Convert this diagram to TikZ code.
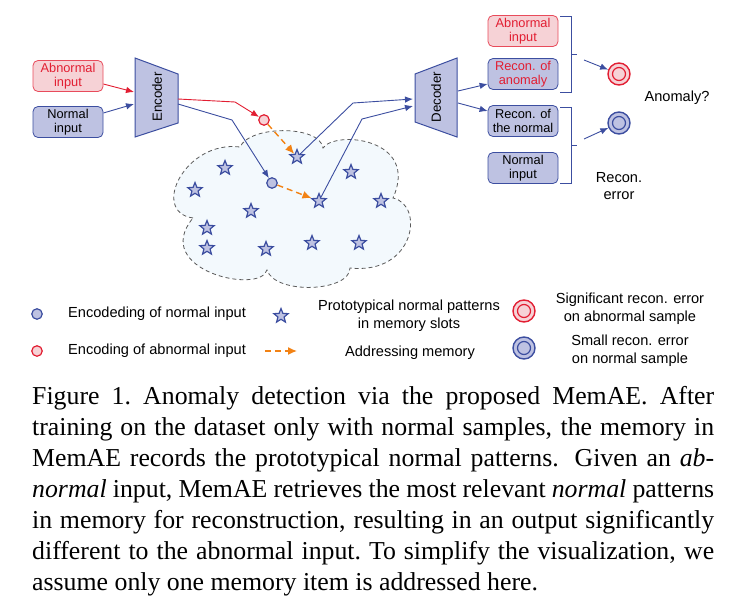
\documentclass[tikz,border=0pt]{standalone}
\usepackage{fontspec}
\setmainfont{Liberation Serif}
\setsansfont{Liberation Sans}
\usetikzlibrary{arrows.meta,shapes.geometric}

\definecolor{encblue}{RGB}{60,78,160}
\definecolor{lav}{RGB}{190,194,226}
\definecolor{abred}{RGB}{226,30,50}
\definecolor{abpink}{RGB}{246,210,214}
\definecolor{addrc}{RGB}{242,130,20}
\definecolor{cloudfill}{RGB}{243,249,253}
\definecolor{cloudline}{RGB}{90,90,90}

\newcommand{\boxfont}{\sffamily\fontsize{12.8}{14.6}\selectfont}
\newcommand{\unitfont}{\sffamily\fontsize{13.3}{15}\selectfont}
\newcommand{\lgfont}{\sffamily\fontsize{14.6}{17.6}\selectfont}
\newcommand{\capfont}{\rmfamily\fontsize{25.8}{31}\selectfont}

\begin{document}
\begin{tikzpicture}[x=1pt,y=-1pt,
        box/.style={draw=encblue, fill=lav, rounded corners=5pt, minimum width=70pt, minimum height=31pt, inner sep=0pt, align=center, font=\boxfont, line width=0.8pt},
        abox/.style={box, draw=abred!80, fill=abpink, text=abred},
        unit/.style={draw=encblue, fill=lav, line width=1pt},
        zn/.style={circle, minimum size=10.5pt, inner sep=0pt, draw=encblue, fill=lav, line width=1.2pt},
        za/.style={zn, draw=abred, fill=abpink},
        memstar/.style={star, star points=5, star point ratio=2.3, minimum size=15pt, inner sep=0pt, draw=encblue, fill=lav, line width=1.2pt},
        ring/.style={circle, minimum size=22pt, inner sep=0pt, line width=1.4pt, draw=#1,
            path picture={\draw[draw=#1, line width=1.2pt] (path picture bounding box.center) circle (6.5pt);}},
        flow/.style={draw=encblue, line width=0.9pt},
        arr/.style={flow, -{Latex[length=8pt,width=6.5pt]}},
        rarr/.style={arr, draw=abred},
        addr/.style={draw=addrc, line width=1.4pt, dash pattern=on 6pt off 4pt, -{Latex[length=9pt,width=8pt]}},
        cloud/.style={draw=cloudline, fill=cloudfill, line width=0.8pt, dash pattern=on 4pt off 3pt},
        lbl/.style={font=\lgfont, align=center, inner sep=0pt}]
    \useasboundingbox (0,0) rectangle (732,608);

    % memory
    \draw[cloud] (193,218) .. controls (150,212) and (185,140) .. (240,147)
        .. controls (250,125) and (320,125) .. (323,148)
        .. controls (335,130) and (420,138) .. (393,198)
        .. controls (425,205) and (415,275) .. (350,268)
        .. controls (350,292) and (275,295) .. (267,270)
        .. controls (260,295) and (150,270) .. (193,218) -- cycle;
    \foreach \i/\x/\y in {1/297/157, 2/225/168, 3/195/190, 4/351/172, 5/319/201, 6/381/201,
                          7/251/211, 8/207/228, 9/207/248, 10/266/249, 11/312/243, 12/359/243}
        \node[memstar] (m\i) at (\x,\y) {};

    % inputs and encoder
    \node[abox] (abIn) at (68,76) {Abnormal\\input};
    \node[box] (nIn) at (68,122) {Normal\\input};
    \draw[unit] (135,58) -- (178,74) -- (178,123) -- (135,137) -- cycle;
    \node[rotate=90, font=\unitfont] (enc) at (157,97) {Encoder};
    \coordinate (encA) at (134,92);
    \coordinate (encN) at (134,104);
    \coordinate (encOa) at (178,99);
    \coordinate (encOn) at (178,104);
    \draw[rarr] ([yshift=-8pt]abIn.east) -- (encA);
    \draw[arr] ([yshift=9pt]nIn.east) -- (encN);

    % encodings and addressing
    \node[za] (qa) at (264,120) {};
    \node[zn] (qn) at (272,183) {};
    \draw[rarr] (encOa) -- (235,102) -- (qa);
    \draw[arr] (encOn) -- (232,120) -- (qn);
    \draw[addr] (qa) -- (m1);
    \draw[addr] (qn) -- (m5);

    % decoder
    \draw[unit] (415,74) -- (457,58) -- (457,137) -- (415,122) -- cycle;
    \node[rotate=90, font=\unitfont] (dec) at (436,97) {Decoder};
    \coordinate (decA) at (413,99);
    \coordinate (decN) at (413,106);
    \coordinate (decOa) at (458,91);
    \coordinate (decOn) at (458,103);
    \draw[arr] (m1) -- (353,103) -- (decA);
    \draw[arr] (m5) -- (362,119) -- (decN);

    % outputs
    \node[abox] (abIn2) at (523,31) {Abnormal\\input};
    \node[box, text=abred] (rA) at (523,74) {Recon. of\\anomaly};
    \node[box] (rN) at (523,121) {Recon. of\\the normal};
    \node[box] (nIn2) at (523,168) {Normal\\input};
    \draw[arr] (decOa) -- ([yshift=-10pt]rA.west);
    \draw[arr] (decOn) -- ([yshift=10pt]rN.west);
    \draw[flow] (560,16) -- (571,16) -- (571,92) -- (560,92) (571,54) -- (577,54);
    \draw[flow] (560,107) -- (571,107) -- (571,183) -- (560,183) (571,145) -- (577,145);
    \node[ring=abred, fill=abpink] (errA) at (619,74) {};
    \node[ring=encblue, fill=lav] (errN) at (619,123) {};
    \coordinate (brA) at (584,60);
    \coordinate (brN) at (584,139);
    \draw[arr] (brA) -- (errA);
    \draw[arr] (brN) -- (errN);
    \node[lbl] (ask) at (677,98) {Anomaly?};
    \node[lbl] (err) at (619,186) {Recon.\\error};

    % legend
    \node[zn] (lgN) at (37,314) {};
    \node[lbl, anchor=west] (lgNt) at (68,314) {Encodeding of normal input};
    \node[za] (lgA) at (37,351) {};
    \node[lbl, anchor=west] (lgAt) at (68,351) {Encoding of abnormal input};
    \node[memstar] (lgS) at (281,316) {};
    \node[lbl] (lgSt) at (409,316) {Prototypical normal patterns\\in memory slots};
    \coordinate (lgD1) at (265,351);
    \coordinate (lgD2) at (297,351);
    \draw[addr] (lgD1) -- (lgD2);
    \node[lbl] (lgDt) at (410,353) {Addressing memory};
    \node[ring=abred, fill=abpink] (lgE) at (524,311) {};
    \node[lbl] (lgEt) at (630,309) {Significant recon. error\\on abnormal sample};
    \node[ring=encblue, fill=lav] (lgF) at (524,348) {};
    \node[lbl] (lgFt) at (630,351) {Small recon. error\\on normal sample};

    % caption
    \node[anchor=north west, inner sep=0pt, text width=682pt, align=justify, font=\capfont] (cap) at (32,386)
        {Figure 1.\ Anomaly detection via the proposed MemAE. After\linebreak
         training on the dataset only with normal samples, the memory in\linebreak
         MemAE records the prototypical normal patterns.  Given an \textit{ab-}\linebreak
         \textit{normal} input, MemAE retrieves the most relevant \textit{normal} patterns\linebreak
         in memory for reconstruction, resulting in an output significantly\linebreak
         different to the abnormal input.\ To simplify the visualization, we\linebreak
         assume only one memory item is addressed here.};
\end{tikzpicture}
\end{document}
